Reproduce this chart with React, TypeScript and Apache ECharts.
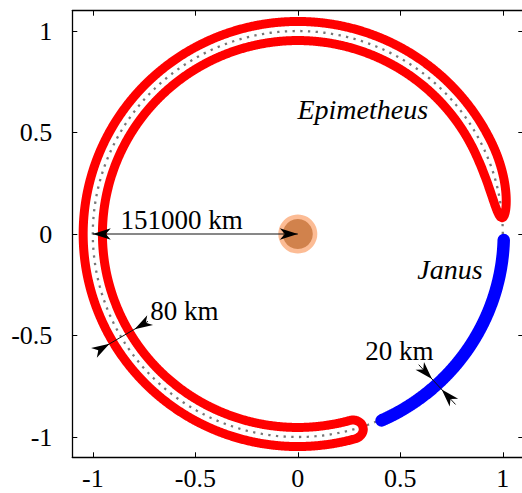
import React, { useEffect, useRef } from "react";
import * as echarts from "echarts";

// ---- data ----
const xTicks = [-1, -0.5, 0, 0.5, 1];
const yTicks = [-1, -0.5, 0, 0.5, 1];
const axisRange = [-1.1, 1.1];
const guideRadius = [1];
const epimetheusTurnAngles = [4.6, 288.5]; // degrees (counter-clockwise from the +x axis)
const epimetheusHalfWidth = [0.047];
const epimetheusCapSpans = [20, 3]; // degrees over which the loop closes at each end
const janusAngles = [-1.7, -66];
const janusRadius = [1.005];
const planetCenter = [0, 0];
const dimensionAngles = [180, -149.5, -47.5];
const dimensionLineRadii = [[0, 1], [0.848, 1.128], [0.873, 1.139]];
const dimensionTipRadii = [[1, 0], [1.066, 0.924], [0.969, 1.039]];
const dimensionTipDirs = [[1, -1], [-1, 1], [1, -1]];
const labelTexts = ["151000 km", "80 km", "20 km", "Epimetheus", "Janus"];
const labelX = [-0.567, -0.553, 0.496, 0.317, 0.742];
const labelY = [0.071, -0.377, -0.578, 0.613, -0.175];
const labelItalic = [false, false, false, true, true];

const DEG = Math.PI / 180;

function guideCircle(): number[][] {
  const pts: number[][] = [];
  const r = guideRadius[0];
  for (let i = 0; i <= 720; i++) {
    const t = (i / 720) * 360 * DEG;
    pts.push([r * Math.cos(t), r * Math.sin(t)]);
  }
  return pts;
}

function capFactor(d: number, L: number): number {
  if (d <= 0) return 0;
  if (d >= L) return 1;
  const q = 1 - d / L;
  return Math.sqrt(1 - q * q);
}

function epimetheusLoop(): number[][] {
  const [a0, a1] = epimetheusTurnAngles;
  const [L0, L1] = epimetheusCapSpans;
  const h0 = epimetheusHalfWidth[0];
  const N = 2400;
  const outer: number[][] = [];
  const inner: number[][] = [];
  for (let i = 0; i <= N; i++) {
    const phi = a0 + ((a1 - a0) * i) / N;
    const h = h0 * Math.min(capFactor(phi - a0, L0), capFactor(a1 - phi, L1));
    const c = Math.cos(phi * DEG);
    const s = Math.sin(phi * DEG);
    outer.push([(1 + h) * c, (1 + h) * s]);
    inner.push([(1 - h) * c, (1 - h) * s]);
  }
  return outer.concat(inner.reverse());
}

function janusArc(): number[][] {
  const [a0, a1] = janusAngles;
  const r = janusRadius[0];
  const pts: number[][] = [];
  const N = 300;
  for (let i = 0; i <= N; i++) {
    const phi = (a0 + ((a1 - a0) * i) / N) * DEG;
    pts.push([r * Math.cos(phi), r * Math.sin(phi)]);
  }
  return pts;
}

const FONT = '"Liberation Serif", "Times New Roman", serif';

export default function App() {
  const ref = useRef<HTMLDivElement>(null);
  useEffect(() => {
    if (!ref.current) return;
    const chart = echarts.init(ref.current, undefined, { renderer: "svg" });
    const axisCommon = {
      type: "value" as const,
      min: axisRange[0],
      max: axisRange[1],
      splitLine: { show: false },
      axisLine: { show: true, onZero: false, lineStyle: { color: "#000", width: 1.3 } },
    };
    const tickStyle = { inside: true, length: 5, lineStyle: { color: "#000", width: 1 } };
    const labelStyle = { color: "#000", fontFamily: FONT, fontSize: 26 };
    chart.setOption({
      animation: false,
      backgroundColor: "#fff",
      grid: {
        left: 72.3,
        top: 10.7,
        width: 451,
        height: 446.6,
        containLabel: false,
        outerBoundsMode: "none",
      },
      xAxis: [
        {
          ...axisCommon,
          position: "bottom",
          axisTick: { ...tickStyle, customValues: xTicks },
          axisLabel: { ...labelStyle, customValues: xTicks, margin: 8 },
        },
        {
          ...axisCommon,
          position: "top",
          axisTick: { ...tickStyle, customValues: xTicks },
          axisLabel: { show: false },
        },
      ],
      yAxis: [
        {
          ...axisCommon,
          position: "left",
          axisTick: { ...tickStyle, customValues: yTicks },
          axisLabel: { ...labelStyle, customValues: yTicks, margin: 20, padding: [0, 0, 8, 0] },
        },
        {
          ...axisCommon,
          position: "right",
          axisTick: { ...tickStyle, customValues: yTicks },
          axisLabel: { show: false },
        },
      ],
      series: [
        {
          type: "line",
          name: "guide",
          data: guideCircle(),
          showSymbol: false,
          symbol: "none",
          silent: true,
          lineStyle: { color: "#777777", width: 2.3, type: [2.3, 5.4], cap: "butt" },
          z: 1,
        },
        {
          type: "line",
          name: "Epimetheus",
          data: epimetheusLoop(),
          showSymbol: false,
          symbol: "none",
          silent: true,
          lineStyle: { color: "#ff0000", width: 9, cap: "round", join: "round" },
          z: 2,
        },
        {
          type: "line",
          name: "Janus",
          data: janusArc(),
          showSymbol: false,
          symbol: "none",
          silent: true,
          lineStyle: { color: "#0000ff", width: 12.5, cap: "round", join: "round" },
          z: 3,
        },
        {
          type: "scatter",
          name: "Saturn",
          silent: true,
          z: 4,
          data: [
            { value: planetCenter, symbolSize: 39, itemStyle: { color: "#fbab7b" } },
            { value: planetCenter, symbolSize: 30, itemStyle: { color: "#c6733a" } },
          ],
        },
        {
          type: "custom",
          name: "dimensions",
          silent: true,
          z: 5,
          data: dimensionAngles.map(() => [0, 0]),
          renderItem: (params: any, api: any) => {
            const i = params.dataIndex;
            const th = dimensionAngles[i] * DEG;
            const c = Math.cos(th);
            const s = Math.sin(th);
            const P = (r: number) => api.coord([r * c, r * s]);
            const [r0, r1] = dimensionLineRadii[i];
            const a = P(r0);
            const b = P(r1);
            const children: any[] = [
              {
                type: "line",
                shape: { x1: a[0], y1: a[1], x2: b[0], y2: b[1] },
                style: { stroke: "#111", lineWidth: 1 },
              },
            ];
            const o0 = P(0);
            const o1 = P(1);
            let ux = o1[0] - o0[0];
            let uy = o1[1] - o0[1];
            const len = Math.hypot(ux, uy);
            ux /= len;
            uy /= len;
            dimensionTipRadii[i].forEach((tr, k) => {
              const dir = dimensionTipDirs[i][k];
              const T = P(tr);
              const dx = ux * dir;
              const dy = uy * dir;
              const nx = -dy;
              const ny = dx;
              const L = 18;
              const W = 11.5;
              const notch = 0.72;
              const points = [
                [T[0], T[1]],
                [T[0] - L * dx + (W / 2) * nx, T[1] - L * dy + (W / 2) * ny],
                [T[0] - notch * L * dx, T[1] - notch * L * dy],
                [T[0] - L * dx - (W / 2) * nx, T[1] - L * dy - (W / 2) * ny],
              ];
              children.push({ type: "polygon", shape: { points }, style: { fill: "#000" } });
            });
            return { type: "group", children };
          },
        },
        {
          type: "custom",
          name: "labels",
          silent: true,
          z: 6,
          data: labelTexts.map(() => [0, 0]),
          renderItem: (params: any, api: any) => {
            const i = params.dataIndex;
            const p = api.coord([labelX[i], labelY[i]]);
            const italic = labelItalic[i];
            return {
              type: "text",
              x: p[0],
              y: p[1],
              style: {
                text: labelTexts[i],
                fill: "#000",
                font: `${italic ? "italic " : ""}${italic ? 28 : 27}px ${FONT}`,
                align: "center",
                verticalAlign: "middle",
              },
            };
          },
        },
      ],
    });
    return () => chart.dispose();
  }, []);
  return (
    <div
      ref={ref}
      style={{ position: "absolute", left: 0, top: 0, width: 522, height: 493, background: "#fff" }}
    />
  );
}
